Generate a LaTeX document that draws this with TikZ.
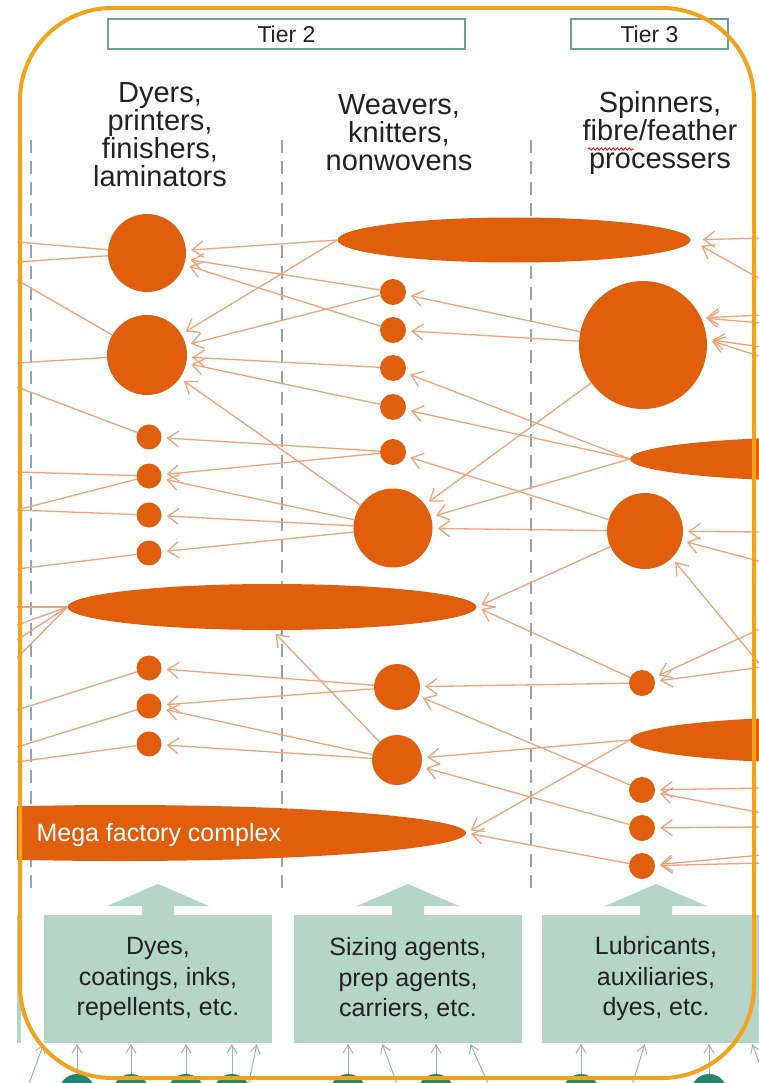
\documentclass[tikz,border=0pt]{standalone}
\usepackage{fontspec}
\setmainfont{Liberation Sans}
\usetikzlibrary{arrows.meta, shapes.geometric, decorations.pathmorphing}

\definecolor{firmorange}{HTML}{E05E0C}
\definecolor{linkorange}{HTML}{F0A47C}
\definecolor{frameorange}{HTML}{F3A21B}
\definecolor{dashgray}{HTML}{9AA2AC}
\definecolor{chemgreen}{HTML}{B5D5C8}
\definecolor{tierteal}{HTML}{6AA294}
\definecolor{dotgreen}{HTML}{27866A}
\definecolor{feedgray}{HTML}{9DB5AD}
\definecolor{inkgray}{HTML}{222222}

\begin{document}
\begin{tikzpicture}[x=1pt, y=-1pt,
    firm/.style={circle, fill=firmorange, inner sep=0pt},
    lot/.style={ellipse, fill=firmorange, inner sep=0pt},
    link/.style={draw=linkorange, line width=1.3pt, shorten >=5pt,
      -{Straight Barb[length=11pt, width=16pt]}},
    exit/.style={draw=linkorange, line width=1.3pt},
    tier/.style={draw=tierteal, line width=1.5pt, inner sep=0pt, minimum height=30pt,
      text=inkgray, font=\fontsize{23}{26}\selectfont},
    head/.style={align=center, text=inkgray, font=\fontsize{29}{28}\selectfont},
    chem/.style={rectangle, fill=chemgreen, inner sep=0pt, minimum width=228pt,
      minimum height=128pt, align=center, text=inkgray, font=\fontsize{25}{30.5}\selectfont},
    feed/.style={draw=feedgray, line width=1pt, shorten >=1pt,
      -{Straight Barb[length=8pt, width=10pt]}},
    sep/.style={draw=dashgray, line width=2.8pt, dash pattern=on 13pt off 8pt}
  ]

  \useasboundingbox (0,0) rectangle (759,1083);
  \fill[white] (0,0) rectangle (759,1083);

  % tier headers
  \node[tier, minimum width=357pt] (tier2) at (286.5,34) {Tier 2};
  \node[tier, minimum width=157pt] (tier3) at (649.5,34) {Tier 3};

  \node[head] (dyers) at (160,135) {Dyers,\\printers,\\finishers,\\laminators};
  \node[head] (weavers) at (399,133) {Weavers,\\knitters,\\nonwovens};
  \node[head] (spinners) at (660,133) {Spinners,\\fibre/feather\\processers};
  \draw[red, line width=0.8pt, decorate, decoration={snake, amplitude=1.2pt, segment length=4pt}]
    (588,149) -- (634,149);

  \begin{scope}
    \clip (17,0) rectangle (760,1083);

    \foreach \x in {31, 282, 531}
      \draw[sep] (\x,140) -- (\x,893);

    % dyers, printers, finishers
    \node[firm, minimum size=78pt] (dyer1) at (147,253) {};
    \node[firm, minimum size=80pt] (dyer2) at (147,355) {};
    \foreach \n/\y in {3/437, 4/476, 5/515, 6/553, 7/668, 8/706, 9/744}
      \node[firm, minimum size=25pt] (dyer\n) at (149,\y) {};
    \node[lot, minimum width=409pt, minimum height=46pt] (dyerE) at (272,607) {};
    \node[lot, minimum width=692pt, minimum height=56pt] (mega) at (120,833) {};
    \node[text=white, font=\fontsize{25}{30}\selectfont, anchor=west] (megatext) at (33,835) {Mega factory complex};

    % weavers, knitters
    \node[lot, minimum width=353pt, minimum height=45pt] (weaveE) at (514,240) {};
    \foreach \n/\y in {1/292, 2/330, 3/368, 4/407, 5/452}
      \node[firm, minimum size=26pt] (weave\n) at (393,\y) {};
    \node[firm, minimum size=79pt] (weave6) at (393,528) {};
    \node[firm, minimum size=46pt] (weave7) at (397,687) {};
    \node[firm, minimum size=50pt] (weave8) at (397,760) {};

    % spinners
    \node[firm, minimum size=128pt] (spin1) at (643,345) {};
    \node[lot, minimum width=400pt, minimum height=44pt] (spinE1) at (830,459) {};
    \node[firm, minimum size=76pt] (spin2) at (645,531) {};
    \node[firm, minimum size=26pt] (spin3) at (642,683) {};
    \node[lot, minimum width=400pt, minimum height=46pt] (spinE2) at (830,740) {};
    \foreach \n/\y in {4/790, 5/828, 6/866}
      \node[firm, minimum size=26pt] (spin\n) at (642,\y) {};

    % loose ends off the picture
    \foreach \n/\y in {A/242, B/262, C/280, D/363, E/387, F/472, G/510, H/569,
                       I/607, J/625, K/640, L/658, M/710, N/747, O/762}
      \coordinate (out\n) at (17,\y);
    \foreach \n/\y in {A/238, B/280, C/315, D/323, E/347, F/357, G/532, H/562,
                       I/667, J/628, K/788, L/813, M/827, N/855, O/863}
      \coordinate (in\n) at (762,\y);

    % to tier 1
    \foreach \a/\b in {dyer1/outA, dyer1/outB, dyer2/outC, dyer2/outD, dyer3/outE,
                       dyer4/outF, dyer4/outG, dyer5/outG, dyer6/outH,
                       dyerE.west/outI, dyerE.west/outJ, dyerE.west/outK, dyerE.west/outL,
                       dyer7/outM, dyer8/outN, dyer9/outO}
      \draw[exit] (\a) -- (\b);

    % weavers -> dyers
    \foreach \a/\b in {weaveE.west/dyer1, weaveE.west/dyer2, weave1/dyer1, weave1/dyer2,
                       weave2/dyer1, weave3/dyer2, weave4/dyer2, weave5/dyer3, weave5/dyer4,
                       weave6/dyer2, weave6/dyer4, weave6/dyer5, weave6/dyer6,
                       weave7/dyer7, weave7/dyer8, weave8/dyer8, weave8/dyer9, weave8/dyerE.south}
      \draw[link] (\a) -- (\b);

    % spinners -> weavers
    \foreach \a/\b in {spin1/weave1, spin1/weave2, spin1/weave6,
                       spinE1.west/weave3, spinE1.west/weave4, spinE1.west/weave6,
                       spin2/weave5, spin2/weave6, spin2/dyerE.east,
                       spin3/dyerE.east, spin3/weave7, spinE2.west/weave8, spinE2.west/mega.east,
                       spin4/weave7, spin5/weave8, spin6/mega.east}
      \draw[link] (\a) -- (\b);

    % from tier 4
    \draw[link, shorten >=12pt] (inA) -- (weaveE.east);
    \draw[link, shorten >=12pt] (inB) -- (weaveE.east);
    \foreach \a/\b in {inC/spin1.25, inD/spin1.25, inE/spin1.5, inF/spin1.5,
                       inG/spin2, inH/spin2, inI/spin2.-45, inI/spin3, inJ/spin3,
                       inK/spin4, inL/spin4, inM/spin5, inN/spin6, inO/spin6}
      \draw[link] (\a) -- (\b);

    % chemical suppliers
    \fill[chemgreen] (12,915) rectangle (21,1043);
    \foreach \x in {158, 408, 656}
      \fill[chemgreen] (\x-51,906) -- (\x,884) -- (\x+51,906) -- (\x+16,906)
        -- (\x+16,916) -- (\x-16,916) -- (\x-16,906) -- cycle;
    \node[chem] (chem1) at (158,979) {Dyes,\\coatings, inks,\\repellents, etc.};
    \node[chem] (chem2) at (408,979) {Sizing agents,\\prep agents,\\carriers, etc.};
    \node[chem] (chem3) at (656,979) {Lubricants,\\auxiliaries,\\dyes, etc.};

    \foreach \n/\x in {1/77, 2/131, 3/186, 4/232, 5/348, 6/436, 7/581, 8/709}
      \node[circle, fill=dotgreen, minimum size=36pt, inner sep=0pt] (dot\n) at (\x,1092) {};
    \foreach \n/\b in {1/chem1, 2/chem1, 3/chem1, 4/chem1, 5/chem2, 6/chem2, 7/chem3, 8/chem3}
      \draw[feed] (dot\n.north) -- (dot\n.north |- \b.south);

    \foreach \n/\x in {1/26, 2/247, 3/400, 4/492, 5/630, 6/770}
      \coordinate (foot\n) at (\x,1092);
    \draw[feed] (foot1) -- (chem1.south west);
    \draw[feed] (foot2) -- ([xshift=99pt]chem1.south);
    \draw[feed] (foot3) -- ([xshift=-26pt]chem2.south);
    \draw[feed] (foot4) -- ([xshift=62pt]chem2.south);
    \draw[feed] (foot5) -- ([xshift=-11pt]chem3.south);
    \draw[feed] (foot6) -- ([xshift=96pt]chem3.south);
  \end{scope}

  % highlight frame
  \draw[frameorange, line width=4pt, rounded corners=92pt] (20,8) rectangle (754,1078);

\end{tikzpicture}
\end{document}
